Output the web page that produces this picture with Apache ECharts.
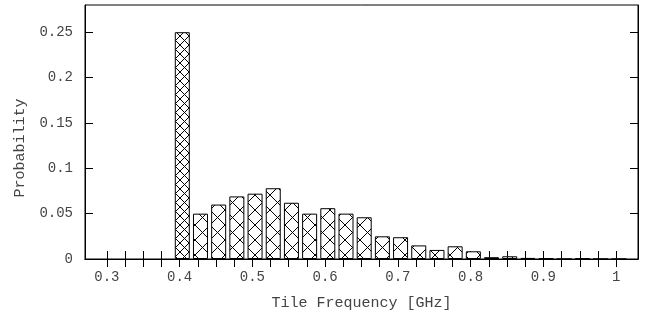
<!DOCTYPE html>
<html><head><meta charset="utf-8">
<script src="https://cdn.jsdelivr.net/npm/echarts@6/dist/echarts.min.js"></script>
<style>html,body{margin:0;padding:0;background:#fff}#c{width:655px;height:325px}</style>
</head><body><div id="c"></div>
<script>
const frequencies = [0.4,0.425,0.45,0.475,0.5,0.525,0.55,0.575,0.6,0.625,0.65,0.675,0.7,0.725,0.75,0.775,0.8,0.825,0.85,0.875,0.9,0.925,0.95,0.975,1.0];
const probabilities = [0.25,0.05,0.06,0.069,0.072,0.078,0.062,0.05,0.056,0.05,0.046,0.025,0.024,0.015,0.01,0.014,0.0085,0.002,0.003,0.0012,0.0007,0,0.0005,0,0];
const xTickLabels = [0.3,0.4,0.5,0.6,0.7,0.8,0.9,1.0];
const xTickMarks = [0.3,0.325,0.35,0.375,0.4,0.425,0.45,0.475,0.5,0.525,0.55,0.575,0.6,0.625,0.65,0.675,0.7,0.725,0.75,0.775,0.8,0.825,0.85,0.875,0.9,0.925,0.95,0.975,1.0];
const yTickLabels = [0,0.05,0.1,0.15,0.2,0.25];
const xTitle = 'Tile Frequency [GHz]';
const yTitle = 'Probability';

function makePattern(s){
  const c = document.createElement('canvas');
  c.width = s; c.height = s;
  const g = c.getContext('2d');
  g.fillStyle = '#fff'; g.fillRect(0,0,s,s);
  g.strokeStyle = '#000'; g.lineWidth = 1;
  g.beginPath();
  g.moveTo(0,0); g.lineTo(s,s);
  g.moveTo(s,0); g.lineTo(0,s);
  g.stroke();
  return {image: c, repeat: 'repeat'};
}
const sparse = makePattern(15);
const dense = makePattern(9);
const peak = probabilities.indexOf(Math.max(...probabilities));

const FONT = 'Liberation Mono';
const TXT = '#444';
const XMIN = 0.27, XMAX = 1.03, SHIFT = 0.0037;

const chart = echarts.init(document.getElementById('c'), null, {renderer: 'canvas'});
chart.setOption({
  animation: false,
  backgroundColor: '#fff',
  grid: {left: 85, right: 17, top: 5, bottom: 66, show: true, borderColor: '#000', borderWidth: 1, backgroundColor: 'transparent'},
  graphic: [{
    type: 'text', x: 20, y: 148, rotation: Math.PI / 2,
    style: {text: yTitle, fontFamily: FONT, fontSize: 15, fill: TXT, align: 'center', verticalAlign: 'middle'}
  }],
  xAxis: [
    {type: 'value', position: 'bottom', min: XMIN, max: XMAX,
     name: xTitle, nameLocation: 'middle', nameGap: 37,
     nameTextStyle: {fontFamily: FONT, fontSize: 15, color: TXT},
     axisLine: {lineStyle: {color: '#000', width: 1}},
     axisTick: {inside: true, length: 8, lineStyle: {color: '#000'}, customValues: xTickMarks},
     axisLabel: {customValues: xTickLabels, margin: 11, fontFamily: FONT, fontSize: 14, color: TXT},
     splitLine: {show: false}},
    {type: 'value', position: 'top', min: XMIN, max: XMAX,
     axisLine: {lineStyle: {color: '#000', width: 1}},
     axisTick: {inside: true, length: 8, lineStyle: {color: '#000'}, customValues: xTickMarks},
     axisLabel: {show: false}, splitLine: {show: false}},
    {type: 'value', min: XMIN - SHIFT, max: XMAX - SHIFT, show: false, splitLine: {show: false}}
  ],
  yAxis: [
    {type: 'value', position: 'left', min: 0, max: 0.28,
     axisLine: {show: true, lineStyle: {color: '#000', width: 1}},
     axisTick: {show: true, inside: true, length: 8, lineStyle: {color: '#000'}, customValues: yTickLabels},
     axisLabel: {customValues: yTickLabels, margin: 12, fontFamily: FONT, fontSize: 14, color: TXT},
     splitLine: {show: false}},
    {type: 'value', position: 'right', min: 0, max: 0.28,
     axisLine: {show: true, lineStyle: {color: '#000', width: 1}},
     axisTick: {show: true, inside: true, length: 8, lineStyle: {color: '#000'}, customValues: yTickLabels},
     axisLabel: {show: false}, splitLine: {show: false}}
  ],
  series: [{
    type: 'bar', xAxisIndex: 2, yAxisIndex: 0, barWidth: 15,
    data: frequencies.map((f, i) => i === peak
      ? {value: [f, probabilities[i]], itemStyle: {color: dense}}
      : [f, probabilities[i]]),
    itemStyle: {color: sparse, borderColor: '#000', borderWidth: 1}
  }]
});
</script></body></html>
